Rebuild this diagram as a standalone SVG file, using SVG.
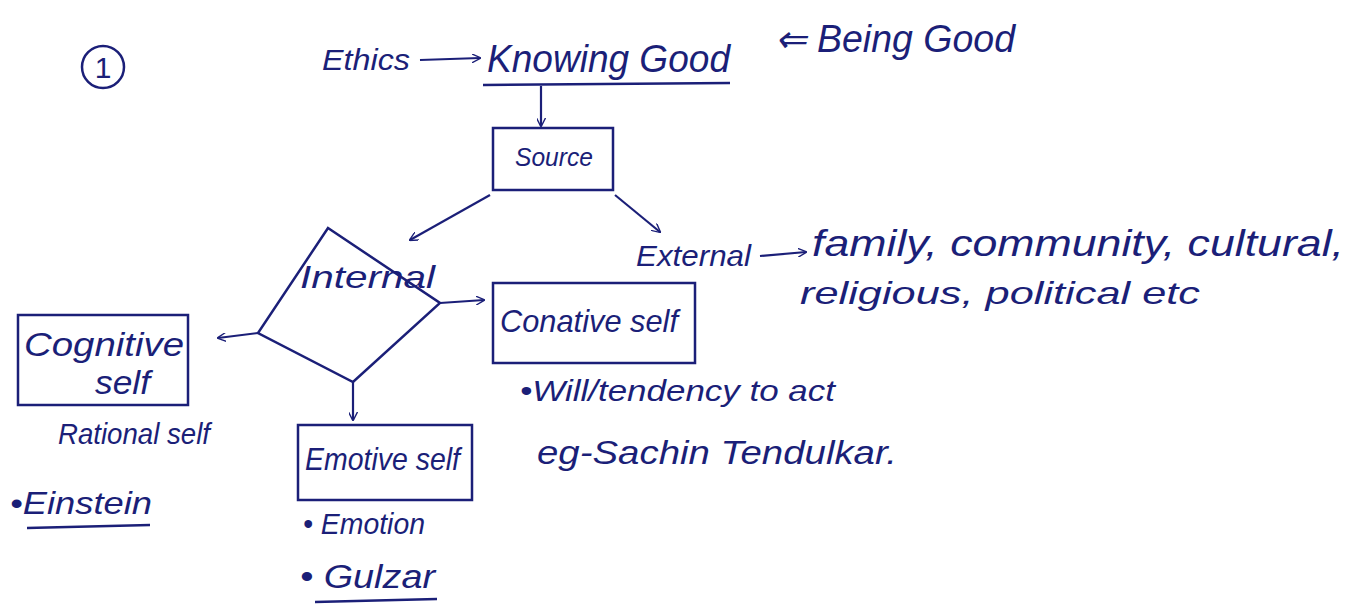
<svg xmlns="http://www.w3.org/2000/svg" width="1364" height="615" viewBox="0 0 1364 615">
<style>
text{font-family:"Liberation Sans",Arial,sans-serif;fill:#1b1f78;font-style:italic}
text.n{font-style:normal}
.b{fill:none;stroke:#1b1f78;stroke-width:2.5}
.c{fill:none;stroke:#1b1f78;stroke-width:2.2;marker-end:url(#ah)}
</style>
<defs>
<marker id="ah" viewBox="0 0 10 10" refX="9" refY="5" markerWidth="9" markerHeight="9" markerUnits="userSpaceOnUse" orient="auto">
<path d="M0,0 L10,5 L0,10" fill="none" stroke="#1b1f78" stroke-width="1.5"/>
</marker>
</defs>
<rect width="1364" height="615" fill="#fff"/>

<g id="number">
<circle cx="103" cy="67" r="21" class="b"/>
<text class="n" x="103" y="78" font-size="30" text-anchor="middle">1</text>
</g>

<g id="ethics"><text x="322" y="70" font-size="30" textLength="88" lengthAdjust="spacingAndGlyphs">Ethics</text></g>
<g id="knowing-good"><text x="487" y="72" font-size="38" textLength="243" lengthAdjust="spacingAndGlyphs">Knowing Good</text>
<line x1="483" y1="85" x2="730" y2="83" class="b"/></g>
<g id="being-good"><text x="775" y="52" font-size="38" textLength="240" lengthAdjust="spacingAndGlyphs">⇐ Being Good</text></g>

<g id="source"><rect x="493" y="128" width="120" height="62" class="b"/>
<text x="515" y="166" font-size="26" textLength="78" lengthAdjust="spacingAndGlyphs">Source</text></g>

<g id="internal"><path d="M328,228 L440,303 L353,382 L258,333 Z" class="b"/>
<text x="300" y="288" font-size="32" textLength="135" lengthAdjust="spacingAndGlyphs">Internal</text></g>

<g id="external"><text x="636" y="266" font-size="30" textLength="115" lengthAdjust="spacingAndGlyphs">External</text></g>
<g id="external-list">
<text x="812" y="256" font-size="36" textLength="532" lengthAdjust="spacingAndGlyphs">family, community, cultural,</text>
<text x="800" y="304" font-size="32" textLength="400" lengthAdjust="spacingAndGlyphs">religious, political etc</text>
</g>

<g id="conative"><rect x="493" y="283" width="202" height="80" class="b"/>
<text x="500" y="332" font-size="32" textLength="178" lengthAdjust="spacingAndGlyphs">Conative self</text></g>
<g id="conative-notes">
<text x="520" y="401" font-size="29" textLength="315" lengthAdjust="spacingAndGlyphs">•Will/tendency to act</text>
<text x="537" y="464" font-size="34" textLength="360" lengthAdjust="spacingAndGlyphs">eg-Sachin Tendulkar.</text>
</g>

<g id="cognitive"><rect x="18" y="315" width="170" height="90" class="b"/>
<text x="24" y="356" font-size="33" textLength="160" lengthAdjust="spacingAndGlyphs">Cognitive</text>
<text x="95" y="394" font-size="33" textLength="55" lengthAdjust="spacingAndGlyphs">self</text></g>
<g id="cognitive-notes">
<text x="58" y="444" font-size="30" textLength="152" lengthAdjust="spacingAndGlyphs">Rational self</text>
<text x="10" y="514" font-size="32" textLength="142" lengthAdjust="spacingAndGlyphs">•Einstein</text>
<line x1="27" y1="528" x2="150" y2="525" class="b"/>
</g>

<g id="emotive"><rect x="298" y="425" width="174" height="75" class="b"/>
<text x="305" y="470" font-size="32" textLength="155" lengthAdjust="spacingAndGlyphs">Emotive self</text></g>
<g id="emotive-notes">
<text x="303" y="534" font-size="29" textLength="122" lengthAdjust="spacingAndGlyphs">• Emotion</text>
<text x="300" y="588" font-size="34" textLength="135" lengthAdjust="spacingAndGlyphs">• Gulzar</text>
<line x1="315" y1="602" x2="437" y2="599" class="b"/>
</g>

<g id="connectors">
<line x1="420" y1="60" x2="480" y2="58" class="c"/>
<line x1="541" y1="86" x2="541" y2="126" class="c"/>
<line x1="490" y1="195" x2="410" y2="240" class="c"/>
<line x1="615" y1="195" x2="660" y2="232" class="c"/>
<line x1="440" y1="303" x2="484" y2="300" class="c"/>
<line x1="258" y1="333" x2="218" y2="338" class="c"/>
<line x1="353" y1="382" x2="353" y2="420" class="c"/>
<line x1="760" y1="256" x2="806" y2="252" class="c"/>
</g>
</svg>
